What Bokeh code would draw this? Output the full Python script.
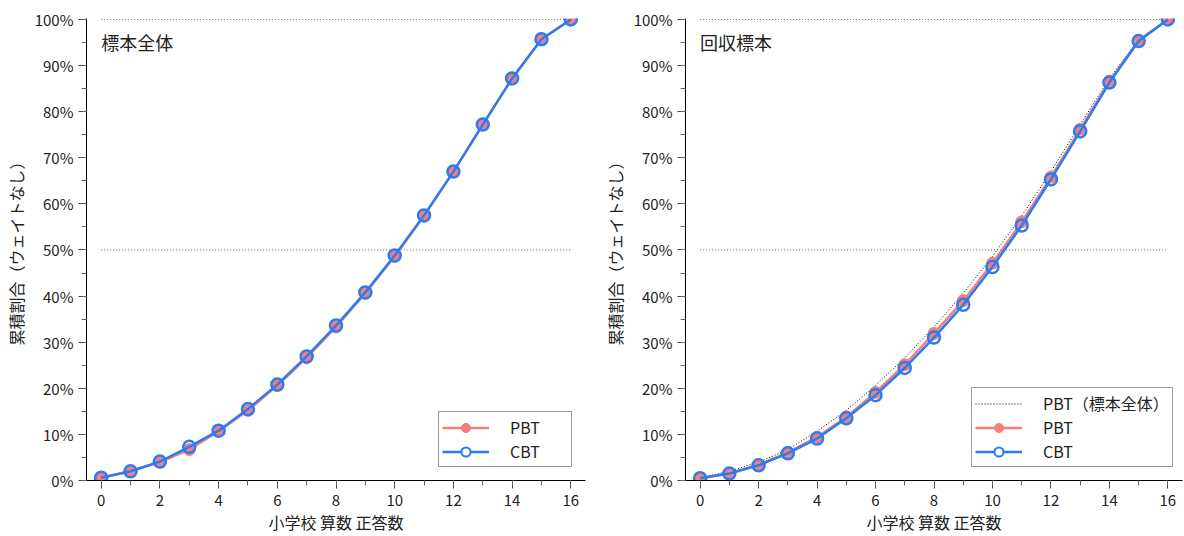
from bokeh.plotting import figure
from bokeh.layouts import row
from bokeh.models import FixedTicker, NumeralTickFormatter, Label, Legend, Range1d
from bokeh.embed import file_html
from bokeh.resources import INLINE

# ---- data ----
scores = list(range(17))
x_ticks = [0, 2, 4, 6, 8, 10, 12, 14, 16]
y_ticks = [0.0, 0.1, 0.2, 0.3, 0.4, 0.5, 0.6, 0.7, 0.8, 0.9, 1.0]
ref_levels = [0.5, 1.0]

all_pbt = [0.006, 0.020, 0.040, 0.067, 0.107, 0.152, 0.206, 0.266, 0.333, 0.406,
           0.486, 0.574, 0.670, 0.772, 0.872, 0.957, 1.000]
all_cbt = [0.006, 0.020, 0.041, 0.073, 0.108, 0.155, 0.208, 0.269, 0.336, 0.408,
           0.488, 0.575, 0.670, 0.772, 0.872, 0.957, 1.000]

rec_pbt = [0.005, 0.016, 0.034, 0.061, 0.094, 0.138, 0.191, 0.251, 0.319, 0.390,
           0.471, 0.561, 0.658, 0.762, 0.866, 0.954, 1.000]
rec_cbt = [0.005, 0.015, 0.033, 0.059, 0.091, 0.135, 0.185, 0.244, 0.310, 0.381,
           0.463, 0.553, 0.653, 0.757, 0.863, 0.953, 1.000]

panel_titles = ["標本全体", "回収標本"]
legend_names = ["PBT", "CBT", "PBT（標本全体）"]
x_label = "小学校 算数 正答数"
y_label = "累積割合（ウェイトなし）"

FONT = "Noto Sans CJK JP"
PBT_COLOR = "#f77f7a"
CBT_COLOR = "#2b7cf3"


def make_panel(pbt, cbt, title, border_left, border_right, ref=None,
               legend_x=0, label_width=58):
    p = figure(width=592, height=536, output_backend="svg", toolbar_location=None,
               x_range=Range1d(-0.5, 16.5), y_range=Range1d(0, 1.002),
               min_border_left=border_left, min_border_right=border_right,
               min_border_top=18, min_border_bottom=56)
    p.outline_line_color = None
    p.grid.visible = False
    p.background_fill_color = "white"

    for v in ref_levels:
        p.line([scores[0], scores[-1]], [v, v], line_color="#666666",
               line_width=1, line_dash="1 2")

    items = []
    if ref is not None:
        r0 = p.line(scores, ref, line_color="black", line_width=1, line_dash="1 2")
        items.append((legend_names[2], [r0]))

    r1 = p.line(scores, pbt, line_color=PBT_COLOR, line_width=2.5)
    r2 = p.scatter(scores, pbt, size=12, fill_color=PBT_COLOR, line_color=PBT_COLOR,
                   line_width=1)
    r3 = p.line(scores, cbt, line_color=CBT_COLOR, line_width=2.5)
    p.scatter(scores, cbt, size=12, fill_color=None, line_color=CBT_COLOR,
              line_width=2.5)
    # legend-only marker with white fill (no visible data)
    r5 = p.scatter([float("nan")], [float("nan")], size=12, fill_color="white",
                   line_color=CBT_COLOR, line_width=2)
    items.append((legend_names[0], [r1, r2]))
    items.append((legend_names[1], [r3, r5]))

    legend = Legend(items=items, location=(legend_x, 13),
                    label_text_font=FONT, label_text_font_size="16px",
                    label_text_color="#222222",
                    glyph_width=47, glyph_height=23, label_height=20,
                    label_width=label_width, label_standoff=21,
                    padding=3, spacing=0, margin=0,
                    border_line_color="#333333", border_line_width=1,
                    background_fill_alpha=1)
    p.add_layout(legend)

    p.add_layout(Label(x=0, y=0.95, text=title, text_font=FONT,
                       text_font_size="18px", text_color="#222222",
                       text_baseline="middle", text_align="left"))

    p.xaxis.ticker = FixedTicker(ticks=x_ticks, minor_ticks=scores)
    p.yaxis.ticker = FixedTicker(ticks=y_ticks,
                                 minor_ticks=[i * 0.05 for i in range(21)])
    p.yaxis.formatter = NumeralTickFormatter(format="0%")

    for ax in (p.xaxis, p.yaxis):
        ax.axis_line_color = "black"
        ax.axis_line_width = 1
        ax.major_tick_line_color = "#444444"
        ax.minor_tick_line_color = "#666666"
        ax.major_tick_in = 0
        ax.minor_tick_in = 0
        ax.major_tick_out = 8
        ax.minor_tick_out = 5
        ax.major_label_text_font = FONT
        ax.major_label_text_font_size = "15px"
        ax.major_label_text_color = "#222222"
        ax.axis_label_text_font = FONT
        ax.axis_label_text_font_size = "16px"
        ax.axis_label_text_font_style = "normal"
        ax.axis_label_text_color = "#222222"

    p.xaxis.axis_label = x_label
    p.yaxis.axis_label = y_label
    p.xaxis.major_label_standoff = 6
    p.xaxis.axis_label_standoff = 1
    p.yaxis.major_label_standoff = 5
    p.yaxis.axis_label_standoff = 4
    return p


left = make_panel(all_pbt, all_cbt, panel_titles[0], 85, 7, legend_x=352,
                  label_width=58)
right = make_panel(rec_pbt, rec_cbt, panel_titles[1], 93, 2, ref=all_pbt,
                   legend_x=286, label_width=124)

layout = row(left, right)
open("out.html", "w").write(file_html(layout, INLINE))
